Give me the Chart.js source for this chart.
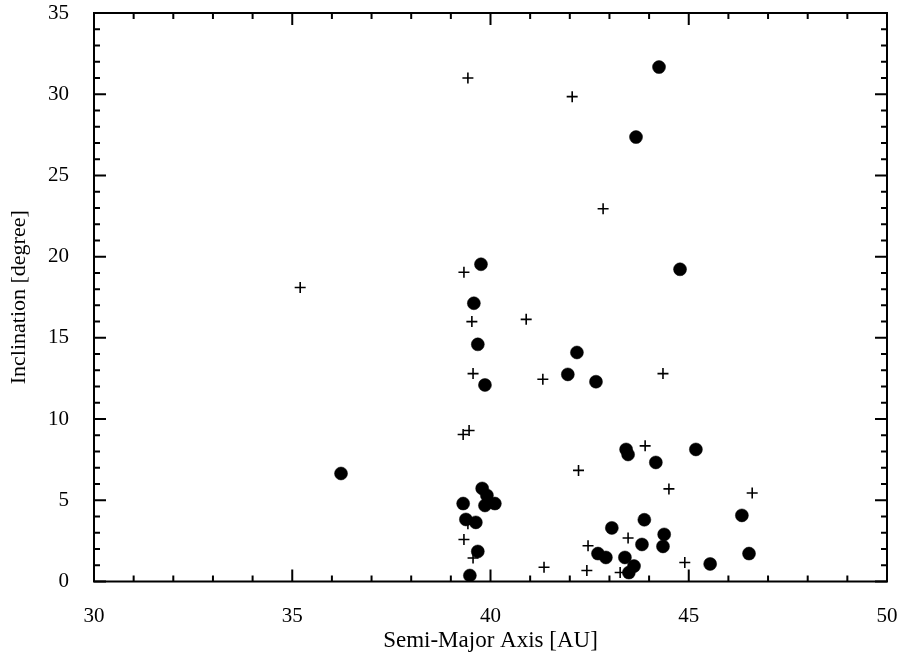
<!DOCTYPE html>
<html>
<head>
<meta charset="utf-8">
<script src="https://cdn.jsdelivr.net/npm/chart.js@4"></script>
<style>
  html, body { margin: 0; padding: 0; background: #fff; }
  #wrap { width: 908px; height: 672px; }
</style>
</head>
<body>
<div id="wrap"><canvas id="inclChart" width="908" height="672"></canvas></div>
<script>
// puntos rellenos (semieje mayor, inclinación)
const dotsA = [36.23, 39.48, 39.68, 39.38, 39.63, 39.31, 39.86, 40.11, 39.91, 39.79,
  39.86, 39.68, 39.58, 39.76, 41.95, 42.66, 42.18, 43.67, 44.25, 44.78,
  43.42, 43.47, 44.17, 45.18, 46.34, 43.88, 43.06, 44.38, 44.35, 43.82,
  42.71, 42.91, 43.39, 43.62, 43.49, 46.52, 45.54];
const dotsI = [6.65, 0.37, 1.85, 3.82, 3.64, 4.8, 4.68, 4.8, 5.3, 5.73,
  12.1, 14.6, 17.13, 19.53, 12.75, 12.3, 14.1, 27.36, 31.67, 19.22,
  8.13, 7.82, 7.33, 8.13, 4.07, 3.8, 3.3, 2.9, 2.16, 2.28,
  1.72, 1.48, 1.48, 0.95, 0.55, 1.72, 1.08];

// cruces
const crossA = [39.43, 42.06, 42.84, 35.2, 39.33, 39.53, 40.9, 39.56, 41.32, 44.35,
  39.31, 39.46, 42.22, 43.9, 44.5, 46.6, 39.33, 39.56, 39.43, 42.46,
  43.47, 41.35, 42.43, 43.27, 44.9];
const crossI = [31.0, 29.85, 22.95, 18.1, 19.04, 16.0, 16.14, 12.8, 12.45, 12.8,
  9.05, 9.3, 6.84, 8.35, 5.7, 5.45, 2.59, 1.45, 3.55, 2.2,
  2.68, 0.88, 0.68, 0.55, 1.17];

const xRange = [30, 50];
const yRange = [0, 35];
const majorStep = 5;
const minorStep = 1;

const font = "'Liberation Serif', 'DejaVu Serif', serif";

function pares(xs, ys) {
  return xs.map((x, i) => ({ x: x, y: ys[i] }));
}

// marco y marcas hacia dentro en los cuatro lados
const marco = {
  id: 'marco',
  afterDraw(chart) {
    const ctx = chart.ctx;
    const a = chart.chartArea;
    const xs = chart.scales.x, ys = chart.scales.y;
    ctx.save();
    ctx.strokeStyle = '#000';
    ctx.lineWidth = 2;
    ctx.strokeRect(a.left, a.top, a.right - a.left, a.bottom - a.top);
    ctx.beginPath();
    for (let v = xRange[0]; v <= xRange[1]; v += minorStep) {
      const px = xs.getPixelForValue(v);
      const len = (v % majorStep === 0) ? 12 : 6;
      ctx.moveTo(px, a.bottom); ctx.lineTo(px, a.bottom - len);
      ctx.moveTo(px, a.top); ctx.lineTo(px, a.top + len);
    }
    for (let v = yRange[0]; v <= yRange[1]; v += minorStep) {
      const py = ys.getPixelForValue(v);
      const len = (v % majorStep === 0) ? 12 : 6;
      ctx.moveTo(a.left, py); ctx.lineTo(a.left + len, py);
      ctx.moveTo(a.right, py); ctx.lineTo(a.right - len, py);
    }
    ctx.stroke();
    ctx.restore();
  }
};

function dibuja() {
  const ctx = document.getElementById('inclChart').getContext('2d');
  new Chart(ctx, {
    type: 'scatter',
    data: {
      datasets: [
        {
          label: 'dots',
          data: pares(dotsA, dotsI),
          pointStyle: 'circle',
          pointRadius: 6.5,
          backgroundColor: '#000',
          borderColor: '#000',
          borderWidth: 0.5,
          order: 0
        },
        {
          label: 'cross',
          data: pares(crossA, crossI),
          pointStyle: 'cross',
          pointRadius: 5.5,
          borderColor: '#000',
          borderWidth: 1.6,
          order: 1
        }
      ]
    },
    options: {
      responsive: false,
      animation: false,
      events: [],
      layout: { padding: { left: 0, right: 21, top: 13, bottom: 0 } },
      plugins: { legend: { display: false }, tooltip: { enabled: false } },
      scales: {
        x: {
          type: 'linear',
          min: xRange[0], max: xRange[1],
          afterFit(s) { s.height = 90.5; s.paddingLeft = 0; s.paddingRight = 0; },
          grid: { display: false, drawTicks: false },
          border: { display: false },
          ticks: {
            stepSize: majorStep, color: '#000', padding: 22,
            font: { family: font, size: 21 }
          },
          title: {
            display: true, text: 'Semi-Major Axis [AU]', color: '#000',
            font: { family: font, size: 23 }, padding: { top: 0, bottom: 17 }
          }
        },
        y: {
          type: 'linear',
          min: yRange[0], max: yRange[1],
          afterFit(s) { s.width = 94; s.paddingTop = 0; s.paddingBottom = 0; },
          grid: { display: false, drawTicks: false },
          border: { display: false },
          ticks: {
            stepSize: majorStep, color: '#000', padding: 25,
            font: { family: font, size: 21 }
          },
          title: {
            display: true, text: 'Inclination [degree]', color: '#000',
            font: { family: font, size: 22 }, padding: { top: 6, bottom: 0 }
          }
        }
      }
    },
    plugins: [marco]
  });
}

document.addEventListener('DOMContentLoaded', dibuja);
</script>
</body>
</html>
